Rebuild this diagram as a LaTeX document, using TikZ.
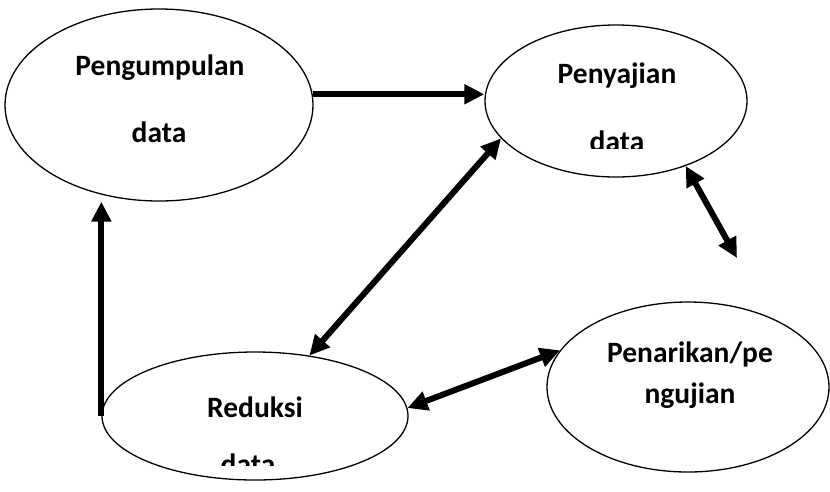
\documentclass[tikz,border=0pt]{standalone}
\usepackage{fontspec}
\setmainfont{Carlito}
\usetikzlibrary{shapes.geometric,arrows.meta}
\tikzset{
  oval/.style={ellipse, draw, line width=1.3pt, inner sep=0pt},
  lbl/.style={anchor=base, inner sep=0pt, font=\bfseries\fontsize{29.5}{35}\selectfont},
  fat/.style={line width=6pt, -{Triangle[length=20pt,width=19pt]}},
  fatboth/.style={line width=6pt, {Triangle[length=20pt,width=19pt]}-{Triangle[length=20pt,width=19pt]}}
}
\begin{document}
\begin{tikzpicture}[x=1pt,y=-1pt]
\useasboundingbox[fill=white] (0,0) rectangle (830,491);
% ellipses
\node[oval, minimum width=308pt, minimum height=192pt] (p1) at (159,105) {};
\node[oval, minimum width=262pt, minimum height=152pt] (p2) at (616,101) {};
\node[oval, minimum width=306pt, minimum height=128pt] (r) at (255,416) {};
\node[oval, minimum width=282pt, minimum height=170pt] (k) at (688,387) {};
% texts
\node[lbl] (t1a) at (160,75) {Pengumpulan};
\node[lbl] (t1b) at (159,142) {data};
\node[lbl] (t2a) at (617,83) {Penyajian};
\begin{scope}
  \clip (560,100) rectangle (680,148);
  \node[lbl] (t2b) at (617,151) {data};
\end{scope}
\node[lbl] (t3a) at (255,417) {Reduksi};
\begin{scope}
  \clip (200,440) rectangle (300,465);
  \node[lbl] (t3b) at (248,474) {data};
\end{scope}
\node[lbl] (t4a) at (690,362) {Penarikan/pe};
\node[lbl] (t4b) at (690,403) {ngujian};
% connectors
\coordinate (free) at (737,258);
\draw[fat] (p1.4) -- (p1.4 -| p2.west);
\draw[fat] (r.west) -- (r.west |- p1.south);
\draw[fatboth] (r.48) -- (p2.-162);
\draw[fatboth] (p2.-43) -- (free);
\draw[fatboth] (r.3) -- (k.164);
\end{tikzpicture}
\end{document}
